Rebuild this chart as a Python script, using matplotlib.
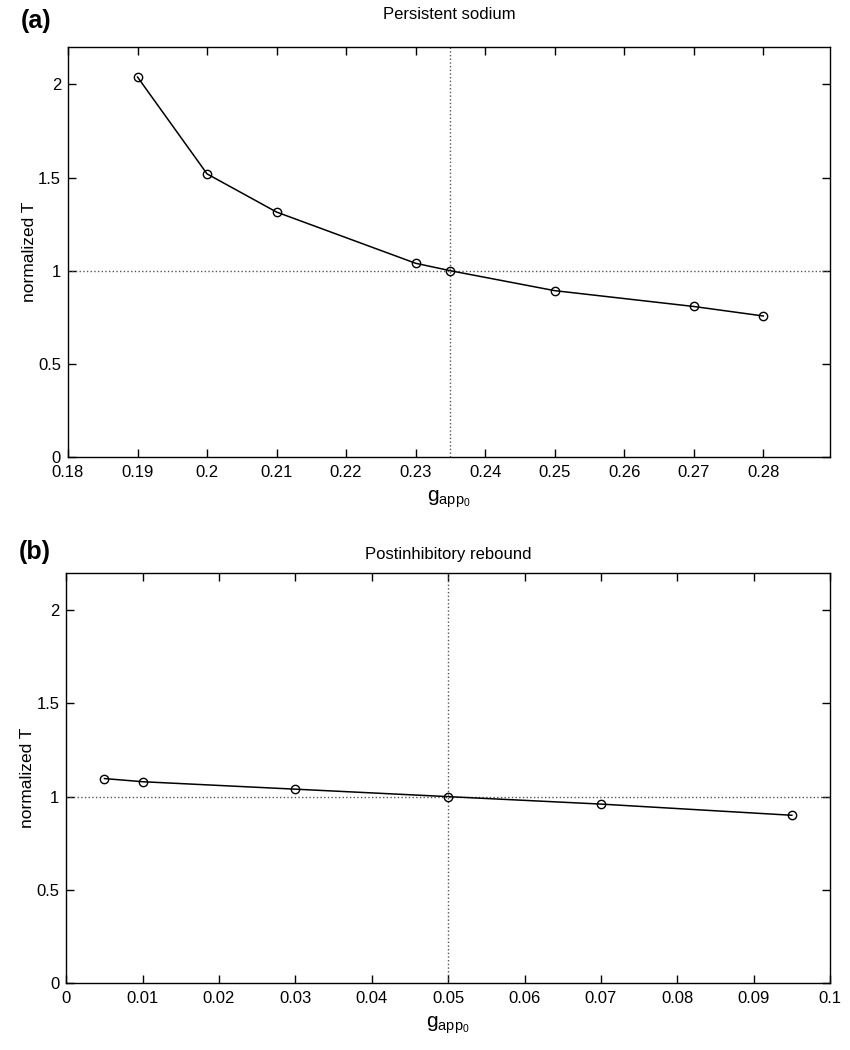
import numpy as np
import matplotlib
matplotlib.use('Agg')
import matplotlib.pyplot as plt

plt.rcParams['font.family'] = ['Liberation Sans', 'DejaVu Sans']
plt.rcParams['mathtext.fontset'] = 'custom'
plt.rcParams['mathtext.rm'] = 'Liberation Sans'
plt.rcParams['mathtext.it'] = 'Liberation Sans'

# panel (a): persistent sodium
g_a = [0.19, 0.20, 0.21, 0.23, 0.235, 0.25, 0.27, 0.28]
T_a = [2.04, 1.52, 1.315, 1.04, 1.0, 0.893, 0.808, 0.757]
ref_a = 0.235
xticks_a = [0.18, 0.19, 0.2, 0.21, 0.22, 0.23, 0.24, 0.25, 0.26, 0.27, 0.28]
xticklabels_a = ['0.18', '0.19', '0.2', '0.21', '0.22', '0.23', '0.24', '0.25', '0.26', '0.27', '0.28']

# panel (b): postinhibitory rebound
g_b = [0.005, 0.01, 0.03, 0.05, 0.07, 0.095]
T_b = [1.097, 1.08, 1.04, 1.0, 0.96, 0.90]
ref_b = 0.05
xticks_b = [0, 0.01, 0.02, 0.03, 0.04, 0.05, 0.06, 0.07, 0.08, 0.09, 0.1]
xticklabels_b = ['0', '0.01', '0.02', '0.03', '0.04', '0.05', '0.06', '0.07', '0.08', '0.09', '0.1']

yticks = [0, 0.5, 1, 1.5, 2]
yticklabels = ['0', '0.5', '1', '1.5', '2']

fig = plt.figure(figsize=(8.5, 10.5), dpi=100)
ax_a = fig.add_axes([0.08, 0.5648, 0.8965, 0.3902])
ax_b = fig.add_axes([0.078, 0.0638, 0.8985, 0.3905])


def draw_panel(ax, g, T, ref, xlim, xticks, xticklabels, title, tpad, letter, ly):
    ax.axhline(1, color='#555555', linestyle=':', linewidth=1)
    ax.axvline(ref, color='#555555', linestyle=':', linewidth=1)
    ax.plot(g, T, color='black', linewidth=1.1, marker='o', markersize=6,
            markerfacecolor='none', markeredgecolor='black', markeredgewidth=1)
    ax.set_xlim(xlim)
    ax.set_ylim(0, 2.2)
    ax.set_xticks(xticks)
    ax.set_xticklabels(xticklabels)
    ax.set_yticks(yticks)
    ax.set_yticklabels(yticklabels)
    ax.tick_params(direction='in', top=True, right=True, labelsize=12, length=6, width=1)
    ax.tick_params(axis='x', pad=6)
    ax.tick_params(axis='y', pad=5)
    for s in ax.spines.values():
        s.set_linewidth(1)
    ax.set_title(title, fontsize=12, pad=tpad)
    ax.set_ylabel('normalized T', fontsize=12.5, labelpad=1)
    ax.set_xlabel(r'$\mathregular{g_{app_0}}$', fontsize=15, labelpad=6)
    ax.text(-0.062, ly, letter, transform=ax.transAxes, fontsize=18,
            fontweight='bold', ha='left', va='center')


draw_panel(ax_a, g_a, T_a, ref_a, (0.18, 0.2896), xticks_a, xticklabels_a,
           'Persistent sodium', 20, '(a)', 1.065)
draw_panel(ax_b, g_b, T_b, ref_b, (0, 0.1), xticks_b, xticklabels_b,
           'Postinhibitory rebound', 10, '(b)', 1.05)

fig.savefig('out.png', dpi=100)
